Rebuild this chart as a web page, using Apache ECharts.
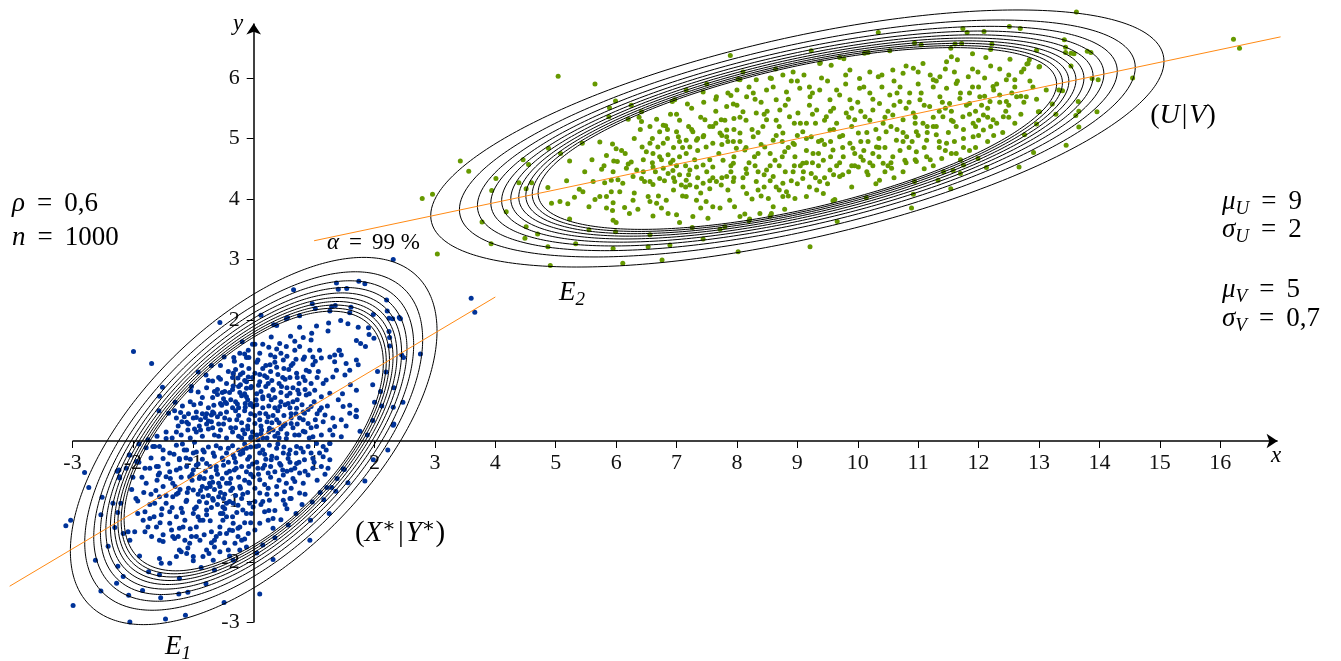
<!DOCTYPE html>
<html>
<head>
<meta charset="utf-8">
<script src="https://cdn.jsdelivr.net/npm/echarts@6/dist/echarts.min.js"></script>
<style>html,body{margin:0;padding:0;background:#fff}#c{width:1341px;height:661px}</style>
</head>
<body>
<div id="c"></div>
<script>
// ---------- parameters shown on the chart ----------
const rho = 0.6;
const nSample = 1000;
const muU = 9, sigmaU = 2;
const muV = 5, sigmaV = 0.7;
const alphaLevels = [0.90, 0.91, 0.92, 0.93, 0.94, 0.95, 0.96, 0.97, 0.98, 0.99];

// ---------- tick labels ----------
const xTicks = [-3,-2,-1,1,2,3,4,5,6,7,8,9,10,11,12,13,14,15,16];
const yTicks = [-3,-2,-1,1,2,3,4,5,6];

// ---------- axis extents (arrows) ----------
const xAxisSpan = [-3, 16.95];
const yAxisSpan = [-3, 6.9];

// ---------- regression lines (end points) ----------
const blueRegLine = [[-4.04,-2.40],[4.0,2.38]];
const greenRegLine = [[1.0,3.31],[17.0,6.68]];

// ---------- standardized sample (X*|Y*) ----------
const blueCloud = [
[-1.99,1.48],[-1.69,1.28],[-0.56,1.96],[-0.19,1.64],[-0.49,1.39],[-0.33,1.38],[-0.92,1.14],[-0.79,1.09],[-1.51,0.89],[-1.56,0.74],
[-1.30,0.64],[-1.57,0.50],[-1.41,0.46],[-1.03,0.90],[-1.04,0.83],[-0.92,0.81],[-0.68,0.99],[-0.55,1.02],[-0.52,0.80],[-0.60,0.77],
[-0.99,0.60],[-1.31,0.50],[-1.21,0.47],[-1.19,0.32],[-1.11,0.31],[-1.09,0.18],[-0.95,0.39],[-0.80,0.39],[-0.75,0.33],[-0.78,0.28],
[-0.66,0.59],[-0.53,0.59],[-0.47,0.64],[-0.70,0.43],[-0.66,0.46],[-0.26,1.04],[-0.22,0.93],[-0.34,0.91],[-0.23,0.80],[-0.12,0.73],
[-0.14,0.62],[-0.27,0.61],[-0.06,0.60],[-0.14,0.56],[-0.34,1.12],[-0.18,1.13],[-0.09,1.06],[-0.04,0.90],[-0.12,0.87],[-0.23,1.45],
[-0.09,1.50],[-0.02,1.60],[-0.15,1.44],[-0.08,1.38],
[2.31,3.00],[3.60,2.36],[3.66,2.13],[1.37,2.61],[1.40,2.51],[1.54,2.52],[1.74,2.64],[1.84,2.60],[0.66,2.50],[0.97,2.27],
[1.02,2.19],[1.26,2.15],[1.29,2.22],[1.35,2.24],[1.61,2.21],[1.59,2.12],[0.12,2.08],[0.54,2.02],[0.56,2.04],[0.76,2.07],
[0.33,1.92],[0.38,1.91],[2.20,2.33],[2.21,2.15],[1.98,2.09],[2.24,2.03],[2.30,2.02],[2.41,2.04],[2.43,2.02],[1.24,1.95],
[1.23,1.82],[1.44,1.99],[1.56,1.94],[1.73,1.88],[1.90,1.87],[1.91,1.76],[1.99,1.70],[2.24,1.81],[2.25,1.71],[0.76,1.88],
[1.04,1.90],[0.96,1.78],[0.61,1.73],[0.29,1.72],[0.02,1.60],[1.70,1.66],[1.77,1.61],[1.85,1.56],[1.41,1.50],[1.34,1.42],
[2.25,1.57],[2.45,1.42],[2.48,1.38],[2.76,1.44],[2.05,1.15],[2.19,1.14],[1.97,0.93],[2.10,0.82],[2.32,0.88],[2.47,0.64],
[2.00,0.64],[2.12,0.58],[2.31,0.56],[1.97,0.34],[2.32,0.28],[1.88,0.10],[1.69,0.41],[1.70,0.51],[1.60,0.93],[1.70,0.84],
[1.47,0.78],[1.59,0.59],
[0.82,1.71],[0.95,1.67],[0.43,1.61],[0.54,1.56],[0.68,1.50],[0.76,1.56],[0.84,1.39],[0.93,1.50],[0.98,1.39],[1.09,1.50],
[1.12,1.37],[1.26,1.39],[1.34,1.31],[1.42,1.50],[1.45,1.42],[1.53,1.28],[1.70,1.34],[1.73,1.26],[1.59,1.17],[1.51,1.09],
[1.37,1.17],[1.31,1.06],[1.20,1.01],[1.07,1.15],[0.98,1.26],[0.87,1.17],[0.82,1.06],[0.71,1.12],[0.65,1.28],[0.49,1.34],
[0.35,1.39],[0.27,1.26],[0.15,1.20],[0.07,1.34],[0.02,1.12],[0.10,0.98],[0.24,0.95],[0.32,0.84],[0.46,0.90],[0.60,0.79],
[0.73,0.84],[0.87,0.76],[1.01,0.84],[1.12,0.73],[1.26,0.79],[1.40,0.68],[1.48,0.57],[1.59,0.46],[1.45,0.35],[1.31,0.38],
[1.18,0.43],[1.09,0.51],[0.95,0.57],[0.84,0.46],[0.71,0.54],[0.57,0.62],[0.43,0.57],[0.29,0.68],[0.15,0.73],[0.04,0.68],
[-0.01,0.57],[0.10,0.46],[0.24,0.40],[0.38,0.35],[0.49,0.25],[0.62,0.29],[0.76,0.38],[0.90,0.29],[1.04,0.24],[1.15,0.32],
[1.26,0.18],[1.12,0.10],[0.98,0.07],[0.82,0.16],[0.68,0.10],[0.54,0.04],[0.40,0.13],[0.26,0.21],[0.13,0.18],[0.02,0.29],
[-0.04,0.07],[0.07,0.02],[1.34,0.24],[1.53,0.25],[1.70,0.40],[1.76,0.16],
[-2.80,-0.52],[-2.73,-0.77],[-3.03,-1.31],[-3.11,-1.40],[-2.99,-2.72],[-2.53,-1.22],[-2.51,-0.93],[-2.41,-1.74],[-2.62,-1.97],[-2.53,-2.48],
[-2.25,-2.07],[-2.27,-2.35],[-2.16,-2.24],[-2.07,-2.55],[-2.05,-2.99],[-1.84,-2.47],[-1.74,-2.16],[-1.56,-2.21],[-1.46,-2.94],[-1.54,-2.59],
[-1.24,-2.53],[-1.23,-2.27],[-1.13,-2.88],[-1.09,-2.50],[-0.79,-2.36],[-0.65,-2.13],[-0.49,-2.67],
[-2.33,-1.03],[-2.20,-1.03],[-2.25,-1.18],[-2.30,-1.43],[-2.16,-1.53],[-2.08,-1.50],[-1.97,-1.50],[-2.05,-1.64],[-1.89,-1.90],[-2.11,-0.45],
[-2.05,-0.23],[-2.22,-0.59],[-2.23,-0.48],[-1.92,-0.99],[-1.80,-1.17],[-1.83,-1.31],[-1.72,-1.28],[-1.75,-1.42],[-1.61,-1.42],[-1.69,-1.58],
[-1.56,-1.64],[-1.78,-0.70],[-1.61,-0.42],[-1.58,-0.56],[-1.45,-0.59],[-1.39,-0.51],[-1.34,-0.70],[-1.50,-0.75],[-1.56,-0.92],[-1.64,-1.03],
[-1.45,-1.03],[-1.39,-1.17],[-1.28,-1.25],[-1.20,-1.11],[-1.14,-1.31],[-1.23,-1.44],[-1.36,-1.47],[-1.50,-1.55],[-1.31,-1.61],[-1.14,-1.64],
[-1.23,-1.80],[-1.09,-1.77],[-1.03,-1.58],[-0.95,-1.42],[-0.89,-1.31],[-0.78,-1.22],[-0.89,-1.64],[-0.78,-1.80],[-0.65,-1.64],[-0.56,-1.53],
[-0.51,-1.31],[-0.45,-1.25],[-0.40,-1.47],[-0.26,-1.44],[-0.20,-1.64],[-0.31,-1.69],[-0.42,-1.80],[-0.56,-1.83],[-0.67,-1.97],[-0.84,-1.91],
[-1.00,-1.91],[-1.11,-1.86],[-1.28,-1.91],[-1.56,-1.94],[-1.39,-2.02],[-0.34,-1.97],[-0.23,-1.80],[-0.12,-1.75],
[-1.11,-0.15],[-1.00,-0.20],[-0.84,-0.15],[-0.67,-0.20],[-0.51,-0.31],[-0.34,-0.23],[-0.18,-0.15],[-0.07,-0.26],[-0.78,-0.37],[-0.62,-0.48],
[-0.45,-0.53],[-0.29,-0.45],[-0.12,-0.51],[-0.89,-0.59],[-0.73,-0.70],[-0.56,-0.75],[-0.40,-0.70],[-0.23,-0.75],[-0.07,-0.70],[-1.00,-0.81],
[-0.84,-0.92],[-0.67,-0.98],[-0.51,-1.09],[-0.34,-1.03],[-0.18,-1.14],[-0.01,-1.09],[-0.78,-1.14],[-0.95,-1.09],[-1.11,-0.98],[-1.25,-0.86],
[-1.34,-0.92],[-1.23,-0.31],[-1.39,-0.20],[-1.50,-0.29],[-1.56,-0.09],[-1.67,-0.09],[-1.28,-0.48],[-1.11,-0.42],[-0.95,-0.40],[-1.06,-0.59],
[2.22,-0.15],[1.98,-0.31],[1.84,-0.66],[1.56,-0.69],[1.50,-0.47],[1.38,-0.62],[1.21,-0.77],[1.29,-0.77],[1.36,-0.83],[1.16,-0.97],
[1.25,-1.20],[0.97,-1.01],[0.94,-1.31],[0.57,-1.39],[0.93,-1.64],[0.32,-1.96],[0.10,-2.53],
[0.04,-0.09],[0.15,-0.15],[0.26,-0.07],[0.38,-0.12],[0.49,-0.20],[0.60,-0.15],[0.71,-0.09],[0.82,-0.18],[0.90,-0.09],[1.04,-0.04],
[1.15,-0.09],[1.26,-0.04],[1.26,-0.31],[1.09,-0.20],[0.98,-0.29],[0.84,-0.31],[0.71,-0.37],[0.57,-0.29],[0.43,-0.37],[0.29,-0.31],
[0.18,-0.40],[0.07,-0.45],[-0.01,-0.59],[0.10,-0.64],[0.24,-0.53],[0.35,-0.51],[0.49,-0.56],[0.62,-0.48],[0.76,-0.53],[0.90,-0.56],
[0.98,-0.45],[1.12,-0.42],[0.82,-0.70],[0.68,-0.67],[0.54,-0.70],[0.38,-0.75],[0.24,-0.78],[0.10,-0.86],[0.02,-1.00],[0.15,-1.00],
[0.26,-0.98],[0.49,-0.98],[0.62,-0.95],[0.76,-0.86],[0.51,-0.84],[0.18,-1.17],[0.24,-1.31],[0.10,-1.36],[0.32,-1.44],[-0.04,-1.20],
[0.02,-1.47],
[-1.53,-2.02],[-1.00,-1.98],[-0.87,-2.09],[-0.40,-1.90],[-0.74,-1.86],[-0.45,-1.53],[-0.26,-1.58],[-0.34,-1.36],[-0.51,-1.20],[-0.12,-1.20],
[-0.23,-1.42],[-0.56,-1.42],[-0.70,-1.50],[-0.84,-1.31],[-1.00,-1.20],[-1.17,-1.42],[-1.34,-1.58],[-1.50,-1.66],[-1.39,-1.36],[-1.53,-1.22],
[-1.06,-1.69],[-1.20,-1.83],[-0.65,-1.75],[-0.26,-1.06],[-0.07,-1.03],[-0.45,-1.03],[-0.09,-1.53],
[-1.78,-0.11],[-2.06,-0.23],[-1.94,-0.34],[-1.58,-0.42],[-1.56,-0.53],[-2.26,-0.50],[-2.22,-0.61],[-1.64,-0.09],[-1.45,0.04],[-1.28,-0.07],
[-1.23,-0.29],[1.31,0.10],[1.45,0.07],[1.26,-0.04],[1.20,-0.15],[1.23,-0.45],[1.48,-0.46],[1.15,-0.26],[2.31,0.26],
[-0.05,0.05],[-0.15,0.12],[-0.25,0.08],[-0.35,0.15],[-0.45,0.05],[-0.55,0.18],[-0.65,0.10],[-0.75,0.20],[-0.85,0.08],[-0.95,0.15],
[-1.05,0.05],[-1.20,0.10],[-0.10,0.25],[-0.20,0.30],[-0.30,0.22],[-0.40,0.35],[-0.50,0.28],[-0.60,0.40],[-0.70,0.32],[-0.90,0.25],
[-1.00,0.38],[-0.05,0.45],[-0.15,0.50],[-0.25,0.42],[-0.35,0.55],[-0.45,0.48],[-0.55,0.62],[-0.10,0.68],[-0.20,0.75],[-0.30,0.65],
[-0.40,0.80],[-0.50,0.70],[-0.60,0.85],[-0.05,0.88],[-0.15,1.00],[-0.25,0.90],[-0.35,1.05],[-0.45,0.95],[-0.08,1.20],[-0.20,1.25],
[-0.30,1.18],[-0.12,1.38],[-1.35,0.05],[-1.45,0.15],[-1.60,0.08],[-1.75,0.02],[-1.90,-0.05],[-1.25,0.25],[-1.15,0.40],[-0.85,0.45],
[-0.75,0.55],
[0.05,0.10],[0.15,0.05],[0.25,0.15],[0.35,0.08],[0.45,0.20],[0.55,0.12],[0.65,0.22],[0.75,0.10],[0.85,0.15],[0.95,0.22],
[0.10,0.35],[0.20,0.45],[0.30,0.30],[0.40,0.50],[0.50,0.42],[0.60,0.55],[0.70,0.45],[0.80,0.60],[0.90,0.52],[1.00,0.65],
[0.05,0.60],[0.15,0.70],[0.25,0.58],[0.35,0.72],[0.45,0.80],[0.55,0.75],[0.65,0.88],[0.75,0.95],[0.85,1.00],[0.20,0.90],
[0.30,1.00],[0.40,1.10],[0.50,1.20],[0.60,1.05],[0.10,1.10],[0.20,1.25],[0.35,1.30],[0.10,1.45],[0.25,1.55],[0.45,1.45],
[-0.05,-0.10],[-0.15,-0.05],[-0.25,-0.15],[-0.35,-0.08],[-0.45,-0.20],[-0.55,-0.12],[-0.65,-0.25],[-0.75,-0.10],[-0.85,-0.30],[-0.95,-0.18],
[-1.05,-0.30],[-1.15,-0.15],[-0.10,-0.30],[-0.20,-0.42],[-0.30,-0.35],[-0.40,-0.50],[-0.50,-0.40],[-0.60,-0.55],[-0.70,-0.60],[-0.80,-0.50],
[-0.90,-0.62],[-1.00,-0.48],[-1.20,-0.60],[-0.05,-0.55],[-0.15,-0.65],[-0.25,-0.60],[-0.35,-0.78],[-0.45,-0.70],[-0.55,-0.85],[-0.65,-0.80],
[-0.75,-0.90],[-0.85,-0.75],[-0.10,-0.85],[-0.20,-0.95],[-0.30,-0.90],[-0.40,-1.00],[-0.50,-0.95],[-0.60,-1.05],[-0.70,-1.10],[-0.90,-1.00],
[-1.10,-0.85],[-1.30,-0.75],[0.10,-0.20],[0.20,-0.30],[0.30,-0.25],[0.40,-0.05],[0.50,-0.10],[0.60,-0.35],[0.70,-0.20],[0.15,-0.45],
[-0.10,0.20],[-0.20,0.05],[0.05,-0.35],[-0.30,0.50],
[-0.02,0.15],[0.12,0.25],[0.22,0.05],[-0.18,-0.20],[-0.32,-0.28],[0.32,0.42],[0.42,0.30],[0.52,0.60],[0.62,0.38],[0.72,0.68],
[0.82,0.48],[0.92,0.78],[1.05,0.45],[1.15,0.95],[1.22,0.58],[-0.42,-0.35],[-0.52,-0.62],[-0.62,-0.42],[-0.72,-0.75],[-0.82,-0.62],
[-0.92,-0.88],[-1.02,-0.65],[-1.12,-1.00],[-1.22,-0.80],[-1.35,-1.10],[-1.45,-0.90],[-0.08,-0.42],[-0.22,-0.78],[-0.38,-0.62],[-0.48,-0.88],
[-0.58,-0.70],[-0.68,-0.95],[-0.78,-0.78],[0.08,-0.55],[0.18,-0.72],[0.28,-0.60],[0.38,-0.88],[0.45,-0.40],[0.55,-0.50],[0.65,-0.62],
[0.75,-0.35],[0.85,-0.50],[0.95,-0.20],[-0.58,0.28],[-0.68,0.48],[-0.88,0.35],[-0.98,0.20],[-1.08,0.45],[-1.18,0.58],[-1.28,0.38],
[-0.38,0.68],[-0.48,0.82],[-0.58,1.05],[-0.68,0.72],[-0.78,0.88],[-0.88,0.62],[0.12,0.82],[0.22,1.05],[0.32,0.85],[0.42,0.95],
[0.52,1.02],[0.62,1.25],[0.72,1.05],[0.82,1.35],[0.92,1.15],[1.02,1.32],[0.05,1.30],[0.15,1.60],[0.38,1.52],[0.55,1.40],
[0.68,1.65],[-1.52,-1.12],[-1.62,-0.82],[-1.72,-1.05],[-1.82,-0.85],[-1.65,-1.25],[-1.92,-1.20],[-2.02,-0.80],[-1.85,-0.60],[-1.72,-0.45],
[-1.90,-0.35],[-0.15,-1.35],[-0.35,-1.25],[-0.55,-1.20],[-0.72,-1.32],[-0.92,-1.25],[-1.05,-1.45],[-0.82,-1.55],[-0.62,-1.58],[-0.48,-1.68],
[-0.15,-1.62],[0.35,-1.15],[0.55,-1.12],[0.70,-1.20],[0.45,-1.30],[0.80,-1.05],[1.05,-0.65],[1.10,-0.85],[0.15,-1.72],[0.35,-1.60],
[0.05,-1.85],
[-1.42,-0.38],[-1.32,-0.22],[-1.22,-0.45],[-1.12,-0.28],[-1.02,-0.55],[-0.92,-0.38],[-0.82,-0.18],[-0.72,-0.42],[-0.62,-0.08],[-0.52,-0.28],
[-0.42,-0.12],[-0.32,-0.48],[-0.22,-0.22],[-0.12,-0.12],[-0.02,-0.38],[0.08,-0.08],[0.18,-0.22],[0.28,-0.42],[0.38,-0.28],[0.48,-0.48],
[0.58,-0.22],[0.68,-0.45],[0.78,-0.12],[-1.38,-0.62],[-1.28,-0.88],[-1.18,-1.18],[-1.08,-0.78],[-0.98,-1.12],[-0.88,-0.82],[-0.78,-1.02],
[-0.68,-0.68],[-0.58,-0.92],[-0.48,-1.12],[-0.38,-0.82],[-0.28,-1.18],[-0.18,-0.88],[-0.08,-0.68],[0.02,-0.78],[0.12,-1.05],[0.22,-0.88],
[0.32,-1.28],[0.42,-0.65],[0.52,-1.05],[0.62,-0.78],[-1.28,0.15],[-1.18,-0.05],[-1.08,0.28],[-0.98,-0.02],[-0.88,0.18],[-0.78,0.45],
[-0.68,0.22],[-0.58,0.08],[-0.48,0.38],[-0.38,0.22],[-0.28,0.35],[-0.18,0.18],[-0.08,0.35],[0.02,0.42],[0.12,0.12],[0.22,0.32],
[0.32,0.18],[0.42,0.05],[0.52,0.28],[0.62,0.45],[0.72,0.28],[0.82,0.35],[0.92,0.05],[1.02,0.35],[1.12,0.55],[-1.05,0.65],
[-0.95,0.48],[-0.85,0.72],[-0.75,1.00],[-0.65,0.82],[-0.55,0.45],[-0.45,0.62],[-0.35,0.85],[-0.25,0.55],[-0.15,0.78],[-0.05,0.62],
[0.05,0.78],[0.15,0.55],[0.25,0.75],[0.35,0.55],[0.45,0.65],[0.55,0.88],[0.65,0.65],[0.75,0.78],[0.85,0.85],[0.95,0.95],
[1.05,1.05],[-0.42,1.15],[-0.32,1.32],[-0.22,1.10],[-0.12,0.98],[-0.02,1.05],[0.08,0.92],[0.18,1.08],[0.28,1.15],[0.38,1.22],
[0.48,1.05],[0.58,1.18],[0.70,1.35],[-0.55,1.25],[-0.70,1.25],[0.28,1.42],[-1.60,-0.65],[-1.70,-0.28],[-1.50,-0.15],[-1.80,-0.45],
[-2.00,-0.60],[-1.95,-0.95],[-1.70,-0.88],[-1.55,-1.35],[-1.80,-1.50],[-1.25,-1.58],[-0.95,-1.58],[-0.70,-1.68],[-0.35,-1.48],[-0.05,-1.35],
[0.25,-1.15],[0.60,-0.95],[0.85,-0.88],[1.00,-0.35],[1.18,-0.55]
];

// ---------- original sample (U|V) ----------
const greenCloud = [
[5.04,6.03],[5.65,5.90],[3.42,4.63],[3.56,4.46],[2.96,4.08],[2.79,4.01],[3.04,3.09],[3.93,3.26],[3.78,3.62],[4.18,3.79],
[4.01,4.34],[3.94,4.14],[4.39,4.27],[4.46,4.65],[4.55,4.57],[4.60,4.27],[4.51,4.17],[4.51,3.54],[4.49,3.35],[4.70,3.42],
[4.87,3.21],[4.91,2.90],[4.87,4.19],[4.88,4.84],[5.08,4.75],[5.23,4.63],[5.44,4.92],[5.73,4.94],[5.33,3.26],[5.55,3.49],
[5.95,3.18],[5.99,3.46],[6.11,2.94],[5.23,3.67],[6.53,3.21],[6.56,3.41],[6.89,3.24],[6.76,2.99],[7.26,3.53],[7.44,3.34],
[7.72,3.50],[8.02,3.13],[5.99,5.62],[5.89,5.51],[5.88,5.36],[6.20,5.32],[6.42,5.44],[6.38,5.35],[6.93,5.61],[6.97,5.64],
[7.16,5.80],[7.44,5.77],[7.66,5.69],[7.90,5.71],[7.89,6.37],[8.02,5.98],[7.18,5.57],[7.83,5.53],[7.94,5.57],
[5.94,4.91],[6.00,4.83],[6.09,4.80],[5.84,4.72],[5.96,4.63],[6.02,4.62],[6.20,4.58],[6.25,4.61],[5.76,4.49],[5.48,4.45],
[5.39,4.16],[5.45,4.12],[5.55,3.87],[5.65,3.99],[5.73,4.04],[5.31,4.03],[5.20,3.92],[5.07,3.96],[4.93,3.93],[5.18,4.30],
[5.62,4.29],[5.81,4.27],[5.92,4.31],[6.03,4.32],[6.11,4.26],[5.92,4.12],[5.95,3.94],[5.94,3.81],[5.95,3.65],[6.00,3.61],
[5.84,3.85],[6.14,3.86],[6.28,3.98],[6.36,3.83],[6.22,3.76],[6.34,4.48],[6.42,4.34],[6.47,4.29],[6.56,4.29],[6.61,4.24],
[6.53,4.04],[6.72,4.34],[6.78,4.51],[6.86,4.42],[6.94,4.47],[7.05,4.40],[6.97,4.29],[7.08,4.23],[7.16,4.31],[7.22,4.23],
[7.33,4.20],[7.44,4.26],[7.55,4.17],[7.66,4.29],[7.74,4.23],[7.83,4.37],[7.94,4.29],[6.61,4.53],[6.72,4.70],[6.69,4.86],
[6.78,4.92],[6.86,4.73],[6.94,4.64],[7.05,4.70],[7.16,4.75],[7.22,4.86],[7.33,4.97],[7.44,5.03],[7.49,4.86],[7.60,4.92],
[7.72,5.09],[7.83,5.03],[7.94,4.95],[7.99,4.84],[6.61,4.75],[6.50,4.78],[6.43,4.86],[6.56,4.92],[6.72,5.11],[6.82,5.21],
[7.00,5.11],[7.03,5.03],[7.16,4.97],[7.27,5.11],[7.47,5.31],[7.60,5.20],[7.74,5.31],[7.83,5.14],[7.95,5.33],[6.56,5.20],
[6.67,5.32],[6.78,5.22],[6.42,5.28],[6.56,3.96],[6.67,3.93],[6.75,3.85],[6.86,3.76],[7.00,3.74],[7.05,3.61],[7.27,3.71],
[7.33,3.98],[7.49,3.96],[7.60,3.87],[7.72,3.85],[7.88,3.98],[7.96,3.87],[8.05,3.71],[7.52,3.68],[7.80,3.54],[6.83,3.98],
[7.16,4.04],[6.61,3.72],[6.06,4.12],[6.17,4.51],[6.28,4.37],[5.84,4.04],[7.44,4.56],[7.60,4.53],[7.77,4.64],[7.94,4.59],
[7.33,4.53],[7.22,4.48],
[10.34,6.75],[11.74,6.82],[11.81,6.75],[12.09,6.77],[12.51,6.85],[12.69,6.82],[10.94,6.58],[11.05,6.55],[11.54,6.49],[11.61,6.56],
[11.72,6.57],[12.22,6.56],[12.20,6.47],[12.96,6.46],[9.23,6.45],[10.11,6.41],[10.17,6.42],[10.53,6.45],[9.38,6.25],[9.70,6.34],
[9.77,6.32],[8.64,6.15],[8.05,5.97],[11.90,6.40],[12.12,6.34],[11.47,6.27],[11.55,6.35],[12.52,6.31],[12.84,6.30],[12.80,6.23],
[13.00,6.18],[9.66,3.63],[9.21,3.21],[8.20,3.64],[10.89,3.85],[10.92,4.08],[10.94,4.29],[10.14,4.02],[11.54,4.17],[11.33,4.31],
[11.42,4.45],[11.58,4.47],[11.70,4.42],[11.75,4.56],[11.99,4.67],[12.13,4.52],[12.67,4.53],[12.76,5.06],[12.91,4.77],[12.96,5.24],
[12.96,5.65],[12.99,5.44],[9.62,3.99],[9.59,3.97],[8.79,3.83],[8.57,3.76],[8.55,3.72],[8.13,3.75],[8.21,3.67],
[8.32,5.97],[8.57,5.99],[8.76,6.05],[8.93,6.10],[9.11,6.05],[9.37,6.24],[9.56,6.21],[9.87,6.13],[10.03,5.99],[10.34,6.02],
[10.58,6.13],[10.75,6.08],[10.92,6.16],[11.08,6.24],[11.25,5.97],[11.36,6.02],[11.47,5.83],[11.63,5.91],[11.83,6.02],[11.99,6.10],
[12.24,5.86],[12.46,5.97],[12.60,5.97],[12.71,6.10],[12.82,6.24],
[8.16,5.69],[8.27,5.75],[8.49,5.80],[8.65,5.64],[8.82,5.77],[9.04,5.83],[9.21,5.69],[9.37,5.80],[9.54,5.64],[9.70,5.72],
[9.87,5.64],[10.03,5.83],[10.20,5.75],[10.36,5.58],[10.53,5.72],[10.70,5.61],[10.86,5.75],[11.03,5.64],[11.19,5.53],[11.36,5.69],
[11.52,5.58],[11.69,5.66],[11.85,5.58],[12.02,5.69],[12.19,5.61],[12.35,5.72],[12.46,5.61],[12.63,5.69],[12.79,5.69],
[8.10,5.44],[8.32,5.42],[8.49,5.31],[8.71,5.47],[8.87,5.36],[9.01,5.42],[9.15,5.25],[9.32,5.47],[9.48,5.36],[9.65,5.25],
[9.81,5.42],[9.95,5.31],[10.12,5.36],[10.25,5.47],[10.42,5.25],[10.58,5.39],[10.75,5.31],[10.92,5.42],[11.08,5.25],[11.25,5.20],
[11.41,5.36],[11.58,5.28],[11.74,5.36],[11.91,5.25],[12.08,5.39],[12.24,5.31],[12.41,5.36],
[8.05,5.09],[8.27,5.03],[8.43,5.20],[8.60,4.97],[8.76,5.09],[8.93,4.92],[9.09,5.11],[9.23,5.03],[9.40,4.97],[9.54,5.14],
[9.70,5.03],[9.87,4.92],[10.01,5.09],[10.17,4.95],[10.31,4.86],[10.47,5.11],[10.64,4.97],[10.81,5.03],[10.97,5.11],[11.14,4.97],
[11.30,5.06],[11.47,4.92],[11.63,5.20],[11.91,5.03],[12.08,5.14],
[8.13,4.81],[8.29,4.70],[8.46,4.86],[8.63,4.64],[8.79,4.78],[8.96,4.70],[9.09,4.59],[9.26,4.75],[9.43,4.64],[9.59,4.81],
[9.76,4.70],[9.92,4.84],[10.09,4.64],[10.25,4.75],[10.42,4.59],[10.58,4.70],[10.78,4.64],[10.97,4.78],[11.14,4.70],[11.39,4.67],
[11.63,4.75],
[8.16,4.42],[8.32,4.29],[8.49,4.48],[8.60,4.37],[8.76,4.26],[8.93,4.45],[9.09,4.34],[9.23,4.42],[9.37,4.29],[9.54,4.48],
[9.70,4.37],[10.01,4.53],[10.17,4.40],[10.36,4.31],[10.56,4.51],[10.75,4.45],[10.97,4.62],
[8.16,4.09],[8.35,4.15],[8.52,4.01],[8.65,4.20],[8.82,4.12],[8.96,4.01],[9.15,4.04],[9.32,4.15],[9.43,4.09],[8.60,3.87],
[8.76,4.04],[8.38,3.76],
[13.62,7.09],[16.22,6.64],[16.32,6.49],[13.42,6.63],[13.44,6.51],[13.44,6.42],[13.53,6.41],[13.58,6.40],[13.80,6.44],[13.86,6.42],
[13.01,6.19],[13.53,6.20],[13.88,5.99],[13.98,5.97],[14.55,6.00],[13.12,5.80],[13.33,5.80],[13.39,5.79],[13.22,5.57],[13.28,5.40],
[13.01,5.44],[13.65,5.61],[13.66,5.45],[13.96,5.44],[13.61,5.38],[13.66,5.19],[13.45,4.89],
[6.65,4.45],[6.90,4.60],[7.10,4.85],[7.30,4.65],[7.50,4.45],[7.70,4.75],[7.90,4.55],[8.05,4.95],[8.20,4.60],[8.40,4.90],
[8.55,4.55],[8.70,5.20],[8.85,4.85],[9.00,5.05],[9.15,4.80],[9.30,5.25],[9.45,4.90],[9.60,5.15],[9.75,4.85],[9.90,5.20],
[10.05,4.95],[10.20,5.30],[10.35,5.00],[10.50,5.45],[10.65,5.15],[10.80,5.50],[10.95,5.25],[11.10,5.55],[11.25,5.35],[11.40,5.60],
[11.55,5.45],[11.70,5.75],[11.85,5.40],[12.00,5.85],[12.15,5.50],[12.30,5.90],[12.45,5.45],
[6.70,4.05],[6.95,4.15],[7.20,4.40],[7.40,4.10],[7.60,4.35],[7.85,4.15],[8.10,4.35],[8.30,4.55],[8.45,4.20],[8.70,4.55],
[8.90,4.30],[9.05,4.55],[9.25,4.60],[9.45,4.35],[9.65,4.55],[9.85,4.45],[10.05,4.70],[10.25,4.55],[10.45,4.85],[10.70,4.80],
[10.90,4.95],[11.10,4.85],[11.30,5.20],[11.50,5.10],[11.75,5.00],[12.00,5.30],[12.20,5.20],[12.50,5.55],[12.70,5.40],
[7.00,5.40],[7.25,5.50],[7.45,5.60],[7.65,5.45],[7.85,5.75],[8.00,5.55],[8.20,5.85],[8.40,5.60],[8.55,6.00],[8.80,5.55],
[9.00,5.95],[9.20,5.55],[9.40,6.00],[9.60,5.50],[9.80,5.90],[10.00,5.60],[10.20,6.10],[10.40,5.85],[10.60,5.95],[10.80,6.20],
[11.00,5.90],[11.20,6.05],[11.45,6.15],[11.65,6.30],[11.90,5.85],[12.10,6.00],[12.35,6.15],[12.60,5.85],[12.85,5.95],
[6.30,4.10],[6.45,4.65],[6.60,5.00],[6.85,5.00],[7.05,5.30],[7.35,4.35],[7.55,5.20],[7.75,4.90],[7.95,5.15],[8.15,5.30],
[8.35,5.10],[8.50,5.45],[8.65,5.05],[8.80,4.45],[8.95,5.25],[9.10,4.45],[9.25,5.40],[9.35,4.75],[9.55,5.45],[9.70,4.60],
[9.90,5.50],[10.10,4.80],[10.30,5.15],[10.45,4.45],[10.60,5.55],[10.85,4.85],[11.00,5.05],[11.20,4.65],[11.35,5.45],[11.60,4.95],
[11.80,5.55],[11.95,4.85],[12.10,5.70],[12.30,5.25],[12.55,5.75],[12.75,5.60],
[7.10,4.05],[7.40,3.85],[7.90,4.45],[8.25,4.00],[8.45,4.40],[8.85,4.05],[9.20,4.20],[9.50,4.25],[9.90,4.20],[10.30,4.25],
[10.60,4.35],[11.25,4.55],[11.85,4.80],[12.40,5.10],[12.60,5.25],
[6.30,5.00],[6.15,4.75],[6.40,5.15],[6.90,5.40],[7.50,5.90],[8.10,6.10],[6.25,5.55],[5.80,4.55],[5.60,4.65],[5.95,4.45],
[7.15,4.55],[7.35,4.80],[7.55,4.65],[7.75,4.35],[7.95,4.70],[8.15,4.85],[8.35,4.45],[8.55,4.75],[8.75,4.95],[8.95,4.55],
[9.15,5.00],[9.35,4.55],[9.55,4.95],[9.75,5.05],[9.95,4.75],[10.15,5.10],[10.35,4.85],[10.55,5.20],[10.75,4.95],[10.95,5.35],
[11.15,5.10],[11.35,4.85],[11.55,5.30],[11.75,5.15],[11.95,5.45],[12.15,5.35],[12.35,5.60],
[7.05,4.95],[7.25,5.15],[7.45,5.05],[7.65,5.25],[7.85,4.95],[8.05,5.35],[8.25,5.15],[8.45,5.40],[8.65,5.30],[8.85,5.65],
[9.05,5.25],[9.25,5.75],[9.45,5.30],[9.65,5.80],[9.85,5.35],[10.05,5.45],[10.25,5.65],[10.45,5.35],[10.65,5.75],[10.85,5.60],
[11.05,5.75],[11.25,5.85],[11.45,5.50],[11.65,5.95],[11.85,5.75],[12.05,5.55],[12.25,5.80],
[6.75,4.65],[6.95,4.85],[7.15,4.20],[7.35,5.00],[7.55,4.30],[7.75,5.05],[7.95,4.35],[8.15,4.50],[8.35,4.75],[8.55,4.30],
[8.75,4.70],[8.95,4.90],[9.15,4.60],[9.35,4.95],[9.55,4.70],[9.75,4.40],[9.95,4.55],[10.15,4.45],[10.35,4.70],[10.55,4.60],
[10.75,5.10],[10.95,4.65],[11.15,5.20],[11.35,4.95],[11.55,4.75],[11.75,4.85],[11.95,5.20],[12.15,4.95],
[8.00,5.80],[8.30,5.65],[8.60,5.85],[8.90,5.95],[9.20,5.85],[9.50,5.95],[9.80,6.05],[10.10,5.85],[10.40,6.05],[10.70,5.85],
[11.00,6.10],[11.30,5.95],[11.60,6.10],[11.90,6.15],[12.20,6.20],[12.50,6.05],[12.75,6.15],
[8.10,4.20],[8.40,4.05],[8.70,4.15],[9.00,4.25],[9.30,4.35],[9.60,4.40],[9.90,4.55],[10.20,4.60],[10.50,4.55],[10.80,4.60],
[11.10,4.50],[11.45,4.80],[11.70,4.65],[12.00,5.05],[12.25,5.05],[12.50,5.35],[12.70,5.70],[12.90,5.85],
[6.80,4.30],[6.60,4.60],[7.00,4.55],[6.85,5.15],[7.20,5.20],[7.40,5.35],[7.65,5.65],[7.80,5.30],[6.95,4.35],[6.45,4.45]
];

// ---------- confidence ellipse from the parameters ----------
function ellipse(mx, my, sx, sy, r, alpha) {
  const k = Math.sqrt(-2 * Math.log(1 - alpha));
  const pts = [];
  const N = 360;
  for (let i = 0; i <= N; i++) {
    const t = 2 * Math.PI * i / N;
    pts.push([mx + k * sx * Math.cos(t), my + k * sy * (r * Math.cos(t) + Math.sqrt(1 - r * r) * Math.sin(t))]);
  }
  return pts;
}

const SERIF = '"Liberation Serif", "DejaVu Serif", serif';
const BLUE = '#003399';
const GREEN = '#669900';
const ORANGE = '#ff8a14';

const series = [];
series.push({type:'scatter', data: blueCloud, symbolSize: 5, itemStyle:{color: BLUE, opacity:1}, z:2, silent:true});
series.push({type:'scatter', data: greenCloud, symbolSize: 5, itemStyle:{color: GREEN, opacity:1}, z:2, silent:true});
alphaLevels.forEach(a => {
  series.push({type:'line', data: ellipse(0, 0, 1, 1, rho, a), showSymbol:false, z:3, silent:true,
    lineStyle:{color:'#000', width:1}});
  series.push({type:'line', data: ellipse(muU, muV, sigmaU, sigmaV, rho, a), showSymbol:false, z:3, silent:true,
    lineStyle:{color:'#000', width:1}});
});
series.push({type:'line', data: blueRegLine, showSymbol:false, z:4, silent:true, lineStyle:{color: ORANGE, width:1}});
series.push({type:'line', data: greenRegLine, showSymbol:false, z:4, silent:true, lineStyle:{color: ORANGE, width:1}});
// axis lines with arrows
series.push({type:'line', data: [], z:5, silent:true,
  markLine:{silent:true, animation:false, symbol:['none','arrow'], symbolSize:11,
    label:{show:false}, emphasis:{disabled:true},
    lineStyle:{color:'#000', width:1.5, type:'solid'},
    data:[
      [{coord:[xAxisSpan[0],0]},{coord:[xAxisSpan[1],0]}],
      [{coord:[0,yAxisSpan[0]]},{coord:[0,yAxisSpan[1]]}]
    ]}
});

const big = 27, mid = 23;
function rich(fs, gap) {
  return {
    i: {fontFamily: SERIF, fontStyle:'italic', fontSize: fs, lineHeight: 32, color:'#000'},
    n: {fontFamily: SERIF, fontSize: fs, lineHeight: 32, color:'#000'},
    e: {fontFamily: SERIF, fontSize: fs, lineHeight: 32, color:'#000', padding:[0, gap, 0, gap]},
    b: {fontFamily: SERIF, fontSize: fs, lineHeight: 32, color:'#000', padding:[0, 2, 0, 2]},
    s: {fontFamily: SERIF, fontStyle:'italic', fontSize: Math.round(fs*0.7), lineHeight: 16, verticalAlign:'bottom', color:'#000'},
    p: {fontFamily: SERIF, fontSize: Math.round(fs*0.7), lineHeight: 18, verticalAlign:'top', color:'#000'}
  };
}
function txt(x, y, text, fs, align, gap) {
  return {type:'text', x: x, y: y, z: 10, silent:true,
    style:{text: text, rich: rich(fs, gap == null ? 12 : gap), align: align || 'left', verticalAlign:'middle',
      fontFamily: SERIF, fontSize: fs, fill:'#000'}};
}

const option = {
  animation: false,
  backgroundColor: '#fff',
  grid: {left: 0, top: 0, width: 1341, height: 661, containLabel:false, outerBoundsMode:'none'},
  xAxis: {
    type:'value', min:-4.2, max:18, position:'bottom', offset:-220,
    axisLine:{show:false, onZero:false},
    axisTick:{show:true, length:7, customValues: xTicks, lineStyle:{color:'#000', width:1}},
    axisLabel:{customValues: xTicks, margin: 11, fontFamily: SERIF, fontSize: 22, color:'#111'},
    splitLine:{show:false}
  },
  yAxis: {
    type:'value', min:-3.636, max:7.289, position:'left', offset:-253.7,
    axisLine:{show:false, onZero:false},
    axisTick:{show:true, length:7, customValues: yTicks, lineStyle:{color:'#000', width:1}},
    axisLabel:{customValues: yTicks, margin: 14, fontFamily: SERIF, fontSize: 22, color:'#111'},
    splitLine:{show:false}
  },
  graphic: [
    txt(12, 204, '{i|ρ}{e|=}{n|0,6}', big),
    txt(12, 238, '{i|n}{e|=}{n|' + nSample + '}', big),
    txt(327, 243, '{i|α}{e|=}{n|99 %}', mid, 'left', 10),
    txt(572, 293, '{i|E}{s|2}', big, 'center'),
    txt(178, 647, '{i|E}{s|1}', big, 'center'),
    txt(400, 533, '{n|(}{i|X}{p|∗}{b||}{i|Y}{p|∗}{n|)}', 29, 'center'),
    txt(1183, 116, '{n|(}{i|U}{b||}{i|V}{n|)}', 28, 'center'),
    txt(1222, 202, '{i|μ}{s|U}{e|=}{n|' + muU + '}', big),
    txt(1222, 230, '{i|σ}{s|U}{e|=}{n|' + sigmaU + '}', big),
    txt(1222, 290, '{i|μ}{s|V}{e|=}{n|' + muV + '}', big),
    txt(1222, 319, '{i|σ}{s|V}{e|=}{n|' + String(sigmaV).replace('.', ',') + '}', big),
    txt(1276, 456, '{i|x}', mid, 'center'),
    txt(238, 24, '{i|y}', mid, 'center')
  ],
  series: series
};

const chart = echarts.init(document.getElementById('c'), null, {renderer:'canvas'});
chart.setOption(option);
</script>
</body>
</html>
